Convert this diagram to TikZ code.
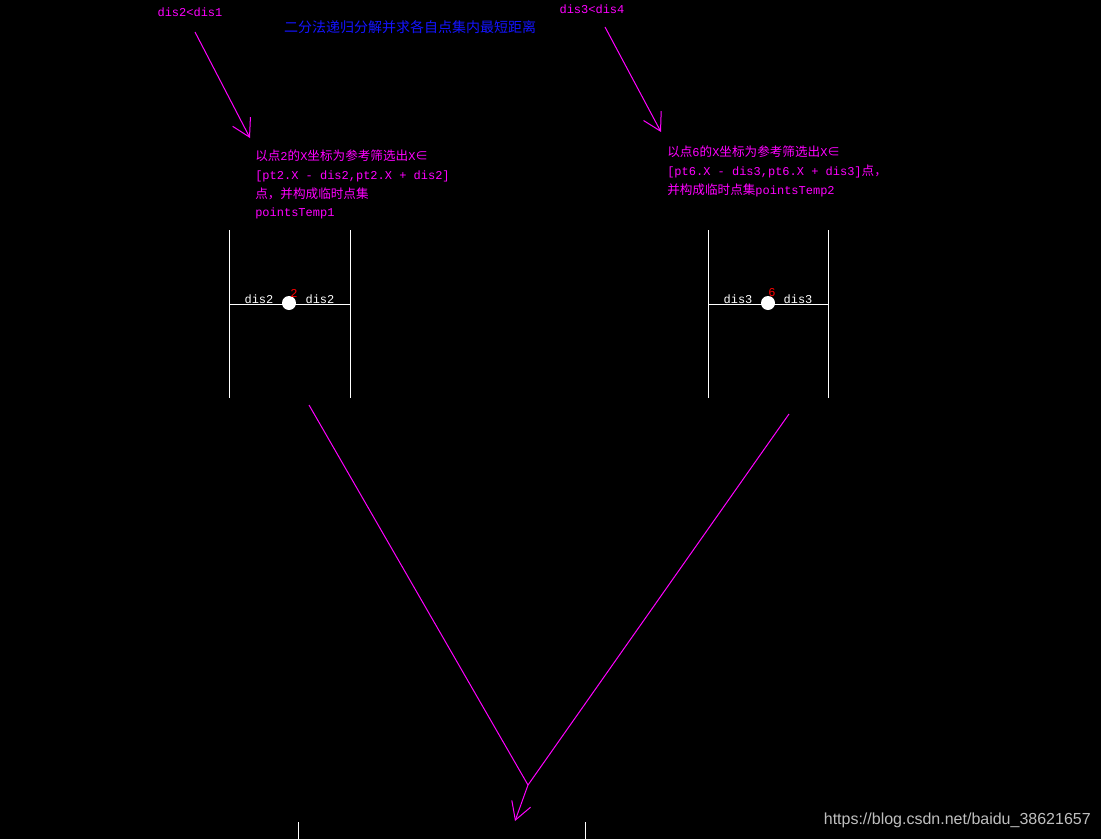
\documentclass[tikz,border=0pt]{standalone}
\usepackage{fontspec}
\setmainfont{Liberation Mono}
\setsansfont{Liberation Sans}
\newfontfamily\cjk{Noto Sans CJK SC}[Scale=1.05]
\usetikzlibrary{arrows.meta}
\definecolor{magentaline}{RGB}{255,0,255}
\definecolor{titleblue}{RGB}{20,20,255}

\begin{document}
\begin{tikzpicture}[x=0.75pt,y=-0.75pt]
\tikzset{
  note/.style={text=magentaline,font=\fontsize{9}{14}\selectfont,inner sep=0pt,align=left,anchor=north west},
  cmpnode/.style={text=magentaline,font=\fontsize{9}{10}\selectfont,inner sep=0pt},
  disnode/.style={text=white,font=\fontsize{9}{10}\selectfont,inner sep=0pt},
  idxnode/.style={text=red,font=\fontsize{9}{10}\selectfont,inner sep=0pt},
  ptnode/.style={circle,fill=white,minimum size=10.5pt,inner sep=0pt},
  wall/.style={white,line width=0.75pt},
  pointer/.style={magentaline,line width=0.75pt,-{Straight Barb[length=13pt,width=15pt]}},
  mergeline/.style={magentaline,line width=0.75pt}
}
\fill[black] (0,0) rectangle (1101,839);
\useasboundingbox (0,0) rectangle (1101,839);
% title and comparisons
\node[text=titleblue,font=\cjk\fontsize{10}{12}\selectfont,inner sep=0pt] (n_title) at (410,27) {二分法递归分解并求各自点集内最短距离};
\node[cmpnode] (n_cmpL) at (190,12) {dis2<dis1};
\node[cmpnode] (n_cmpR) at (592,9) {dis3<dis4};
\coordinate (c_srcL) at (195,32);
\coordinate (c_dstL) at (250,138);
\coordinate (c_srcR) at (605,27);
\coordinate (c_dstR) at (661,132);
\draw[pointer] (c_srcL) -- (c_dstL);
\draw[pointer] (c_srcR) -- (c_dstR);
% notes
\node[note] (n_noteL) at (255,150) {{\cjk 以点}2{\cjk 的}X{\cjk 坐标为参考筛选出}X{\cjk ∈}\\
{[}pt2.X - dis2,pt2.X + dis2{]}\\
{\cjk 点，并构成临时点集}\\
pointsTemp1};
\node[note] (n_noteR) at (667,146) {{\cjk 以点}6{\cjk 的}X{\cjk 坐标为参考筛选出}X{\cjk ∈}\\
{[}pt6.X - dis3,pt6.X + dis3{]}{\cjk 点，}\\
{\cjk 并构成临时点集}pointsTemp2};
% left strip
\coordinate (c_L1t) at (229,230); \coordinate (c_L1b) at (229,398);
\coordinate (c_L2t) at (350,230); \coordinate (c_L2b) at (350,398);
\coordinate (c_Lm1) at (229,304); \coordinate (c_Lm2) at (350,304);
\draw[wall] (c_L1t) -- (c_L1b);
\draw[wall] (c_L2t) -- (c_L2b);
\draw[wall] (c_Lm1) -- (c_Lm2);
\node[ptnode] (n_pt2) at (289,303) {};
\node[idxnode] (n_idx2) at (294,293) {2};
\node[disnode] (n_disL1) at (259,299) {dis2};
\node[disnode] (n_disL2) at (320,299) {dis2};
% right strip
\coordinate (c_R1t) at (708,230); \coordinate (c_R1b) at (708,398);
\coordinate (c_R2t) at (828,230); \coordinate (c_R2b) at (828,398);
\coordinate (c_Rm1) at (708,304); \coordinate (c_Rm2) at (828,304);
\draw[wall] (c_R1t) -- (c_R1b);
\draw[wall] (c_R2t) -- (c_R2b);
\draw[wall] (c_Rm1) -- (c_Rm2);
\node[ptnode] (n_pt6) at (768,303) {};
\node[idxnode] (n_idx6) at (772,293) {6};
\node[disnode] (n_disR1) at (738,299) {dis3};
\node[disnode] (n_disR2) at (798,299) {dis3};
% merge
\coordinate (c_fromL) at (309,405);
\coordinate (c_fromR) at (789,414);
\coordinate (c_merge) at (528,785);
\coordinate (c_down) at (515,821);
\draw[mergeline] (c_fromL) -- (c_merge);
\draw[mergeline] (c_fromR) -- (c_merge);
\draw[pointer] (c_merge) -- (c_down);
\coordinate (c_B1t) at (298,822); \coordinate (c_B1b) at (298,839);
\coordinate (c_B2t) at (585,822); \coordinate (c_B2b) at (585,839);
\draw[wall] (c_B1t) -- (c_B1b);
\draw[wall] (c_B2t) -- (c_B2b);
% watermark
\node[text=white!75!black,font=\sffamily\fontsize{12}{14}\selectfont,inner sep=0pt,anchor=east] (n_mark) at (1091,820) {https://blog.csdn.net/baidu\_38621657};
\end{tikzpicture}
\end{document}
